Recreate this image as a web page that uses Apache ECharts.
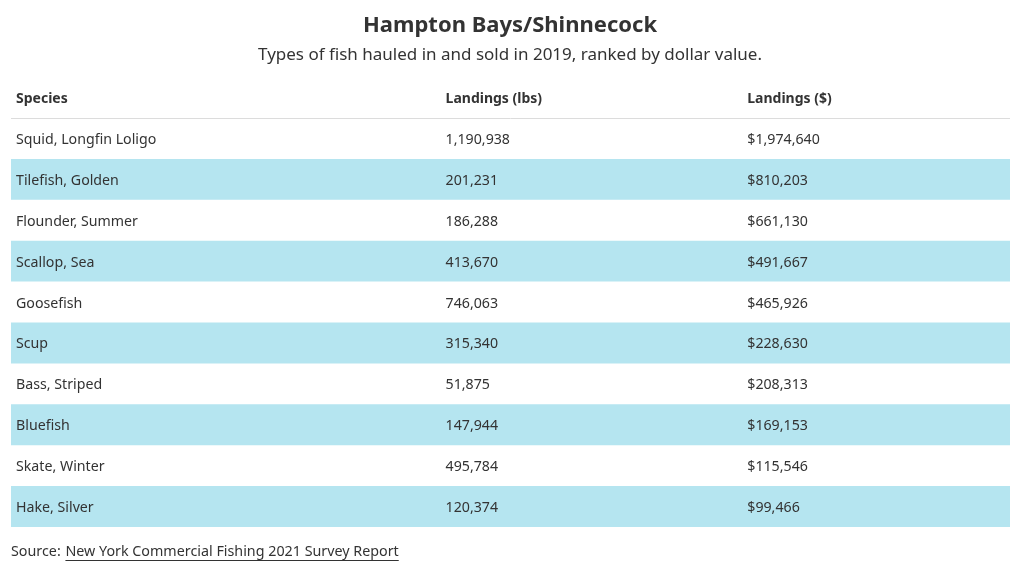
<!DOCTYPE html>
<html>
<head>
<meta charset="utf-8">
<title>Hampton Bays/Shinnecock</title>
<script src="https://cdn.jsdelivr.net/npm/echarts@6/dist/echarts.min.js"></script>
<style>
  html, body { margin: 0; padding: 0; background: #fff; }
  #main { width: 1020px; height: 572px; }
</style>
</head>
<body>
<div id="main"></div>
<script>
// table data
var species = ['Squid, Longfin Loligo', 'Tilefish, Golden', 'Flounder, Summer', 'Scallop, Sea',
  'Goosefish', 'Scup', 'Bass, Striped', 'Bluefish', 'Skate, Winter', 'Hake, Silver'];
var landingsLbs = [1190938, 201231, 186288, 413670, 746063, 315340, 51875, 147944, 495784, 120374];
var landingsUsd = [1974640, 810203, 661130, 491667, 465926, 228630, 208313, 169153, 115546, 99466];
var headers = ['Species', 'Landings (lbs)', 'Landings ($)'];

var FONT = '"Noto Sans", "Open Sans", sans-serif';
var TEXT = '#333';
var STRIPE = '#b5e5f0';
var colX = [0.005, 0.435, 0.737]; // column text start, as share of table width

var fmt = function (v) { return v.toLocaleString('en-US'); };

var chart = echarts.init(document.getElementById('main'));

// width of link text for underline
var ctx = document.createElement('canvas').getContext('2d');
ctx.font = '14.3px ' + FONT;
var srcW = ctx.measureText('Source: ').width;
var linkW = ctx.measureText('New York Commercial Fishing 2021 Survey Report').width;

var option = {
  backgroundColor: '#fff',
  animation: false,
  title: {
    text: 'Hampton Bays/Shinnecock',
    subtext: 'Types of fish hauled in and sold in 2019, ranked by dollar value.',
    left: 'center',
    top: 10,
    itemGap: 10,
    textStyle: { fontFamily: FONT, fontSize: 22, fontWeight: 'bold', color: TEXT },
    subtextStyle: { fontFamily: FONT, fontSize: 17, color: TEXT }
  },
  grid: { left: 11, right: 10, top: 118, bottom: 45 },
  xAxis: { type: 'value', min: 0, max: 1, show: false },
  yAxis: {
    type: 'category',
    data: species,
    inverse: true,
    show: false
  },
  series: [{
    type: 'custom',
    data: species.map(function (s, i) { return [0, i]; }),
    encode: { x: 0, y: 1 },
    renderItem: function (params, api) {
      var i = api.value(1);
      var cs = params.coordSys;
      var yc = api.coord([0, i])[1];
      var h = api.size([0, 1])[1];
      var cells = [species[i], fmt(landingsLbs[i]), '$' + fmt(landingsUsd[i])];
      var children = [];
      if (i % 2 === 1) {
        children.push({
          type: 'rect',
          shape: { x: cs.x, y: yc - h / 2, width: cs.width, height: h },
          style: { fill: STRIPE }
        });
      }
      cells.forEach(function (t, c) {
        children.push({
          type: 'text',
          style: {
            x: cs.x + cs.width * colX[c], y: yc + 1.5,
            text: t, fill: TEXT, font: '14.2px ' + FONT,
            verticalAlign: 'middle', align: 'left'
          }
        });
      });
      return { type: 'group', children: children };
    }
  }],
  graphic: headers.map(function (t, c) {
    return {
      type: 'text',
      left: 11 + 999 * colX[c], top: 92,
      style: { text: t, fill: TEXT, font: 'bold 14px ' + FONT }
    };
  }).concat([
    {
      type: 'line',
      shape: { x1: 11, y1: 118.5, x2: 1010, y2: 118.5 },
      style: { stroke: '#dcdcdc', lineWidth: 1 }
    },
    {
      type: 'text',
      left: 11, top: 545,
      style: { text: 'Source: ', fill: TEXT, font: '14.3px ' + FONT }
    },
    {
      type: 'text',
      left: 12 + srcW, top: 545,
      style: { text: 'New York Commercial Fishing 2021 Survey Report', fill: TEXT, font: '14.3px ' + FONT }
    },
    {
      type: 'line',
      shape: { x1: 12 + srcW, y1: 560.5, x2: 12 + srcW + linkW, y2: 560.5 },
      style: { stroke: TEXT, lineWidth: 1 }
    }
  ])
};

chart.setOption(option);
</script>
</body>
</html>
